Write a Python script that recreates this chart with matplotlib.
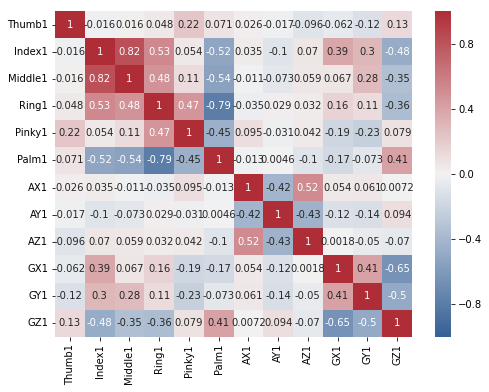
import numpy as np
import pandas as pd
import matplotlib
matplotlib.use('Agg')
import matplotlib.pyplot as plt
import seaborn as sns

# ---- 数据：传感器相关系数矩阵 ----
labels = ['Thumb1', 'Index1', 'Middle1', 'Ring1', 'Pinky1', 'Palm1',
          'AX1', 'AY1', 'AZ1', 'GX1', 'GY1', 'GZ1']

thumb1 = [1, -0.016, 0.016, 0.048, 0.22, 0.071, 0.026, -0.017, -0.096, -0.062, -0.12, 0.13]
index1 = [-0.016, 1, 0.82, 0.53, 0.054, -0.52, 0.035, -0.1, 0.07, 0.39, 0.3, -0.48]
middle1 = [0.016, 0.82, 1, 0.48, 0.11, -0.54, -0.011, -0.073, 0.059, 0.067, 0.28, -0.35]
ring1 = [0.048, 0.53, 0.48, 1, 0.47, -0.79, -0.035, 0.029, 0.032, 0.16, 0.11, -0.36]
pinky1 = [0.22, 0.054, 0.11, 0.47, 1, -0.45, 0.095, -0.031, 0.042, -0.19, -0.23, 0.079]
palm1 = [0.071, -0.52, -0.54, -0.79, -0.45, 1, -0.013, 0.0046, -0.1, -0.17, -0.073, 0.41]
ax1 = [0.026, 0.035, -0.011, -0.035, 0.095, -0.013, 1, -0.42, 0.52, 0.054, 0.061, 0.0072]
ay1 = [-0.017, -0.1, -0.073, 0.029, -0.031, 0.0046, -0.42, 1, -0.43, -0.12, -0.14, 0.094]
az1 = [-0.096, 0.07, 0.059, 0.032, 0.042, -0.1, 0.52, -0.43, 1, 0.0018, -0.05, -0.07]
gx1 = [-0.062, 0.39, 0.067, 0.16, -0.19, -0.17, 0.054, -0.12, 0.0018, 1, 0.41, -0.65]
gy1 = [-0.12, 0.3, 0.28, 0.11, -0.23, -0.073, 0.061, -0.14, -0.05, 0.41, 1, -0.5]
gz1 = [0.13, -0.48, -0.35, -0.36, 0.079, 0.41, 0.0072, 0.094, -0.07, -0.65, -0.5, 1]

corr = pd.DataFrame([thumb1, index1, middle1, ring1, pinky1, palm1,
                     ax1, ay1, az1, gx1, gy1, gz1],
                    index=labels, columns=labels)

# ---- 绘图 ----
fig = plt.figure(figsize=(489 / 72, 392 / 72), dpi=72)
ax = fig.add_axes([55 / 489, 55 / 392, 357 / 489, 326 / 392])
cax = fig.add_axes([435 / 489, 55 / 392, 16 / 489, 326 / 392])

cmap = sns.diverging_palette(250, 10, l=40, as_cmap=True)
sns.heatmap(corr, ax=ax, cbar_ax=cax, cmap=cmap, vmin=-1, vmax=1, center=0,
            annot=True, fmt='.2g', annot_kws={'fontsize': 10})

ax.set_xticklabels(labels, rotation=90, fontsize=10)
ax.set_yticklabels(labels, rotation=0, fontsize=10)
cax.set_yticks([-0.8, -0.4, 0.0, 0.4, 0.8])
cax.tick_params(labelsize=10)

fig.savefig('out.png', dpi=72)
